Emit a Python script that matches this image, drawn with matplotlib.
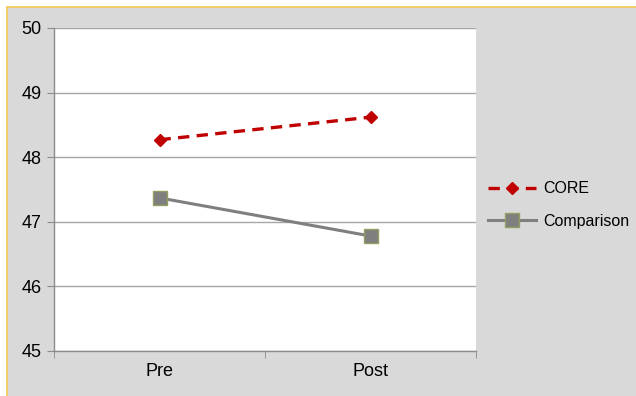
import matplotlib

matplotlib.use("Agg")
import matplotlib.pyplot as plt
from matplotlib.patches import Rectangle

categories = ["Pre", "Post"]
core_values = [48.27, 48.62]
comparison_values = [47.37, 46.78]
y_ticks = [45, 46, 47, 48, 49, 50]

plt.rcParams["font.family"] = ["Liberation Sans", "DejaVu Sans"]

fig = plt.figure(figsize=(6.36, 3.96), dpi=100, facecolor="white")
# grey chart background with the yellow frame on top/left
fig.patches.append(Rectangle((7 / 636, -0.1), 1.1, 1 + 0.1 - 7 / 396, transform=fig.transFigure,
                             facecolor="#d9d9d9", edgecolor="#f5c750", linewidth=1.2, zorder=-1))

ax = fig.add_axes([54 / 636, 45 / 396, 422 / 636, 323 / 396])
ax.set_facecolor("white")

x = list(range(len(categories)))
ax.plot(x, core_values, color="#c00000", linestyle=(0, (3.4, 2.2)), linewidth=2.4,
        marker="D", markersize=6.5, markerfacecolor="#c00000", markeredgecolor="#c00000",
        label="CORE", zorder=3)
ax.plot(x, comparison_values, color="#7f7f7f", linewidth=2.2,
        marker="s", markersize=10, markerfacecolor="#7f7f7f", markeredgecolor="#8fa060",
        markeredgewidth=1, label="Comparison", zorder=3)

ax.set_xlim(-0.5, len(categories) - 0.5)
ax.set_ylim(y_ticks[0], y_ticks[-1])
ax.set_yticks(y_ticks)
ax.set_xticks(x)
ax.set_xticklabels(categories)
ax.set_xticks([i - 0.5 for i in range(len(categories) + 1)], minor=True)
ax.tick_params(axis="x", which="major", length=0, pad=9, labelsize=13)
ax.tick_params(axis="x", which="minor", length=5, color="#8c8c8c", direction="out")
ax.tick_params(axis="y", length=5, color="#8c8c8c", direction="out", pad=4, labelsize=13)
ax.grid(axis="y", color="#a6a6a6", linewidth=1)
ax.set_axisbelow(True)

for side in ["top", "right"]:
    ax.spines[side].set_visible(False)
for side in ["left", "bottom"]:
    ax.spines[side].set_color("#8c8c8c")
    ax.spines[side].set_linewidth(1)

fig.legend(loc="upper left", bbox_to_anchor=(474 / 636, 1 - 167 / 396), frameon=False,
           fontsize=11.5, handlelength=3.0, labelspacing=1.1, handletextpad=0.45,
           markerscale=1.0)

fig.savefig("out.png", dpi=100, facecolor=fig.get_facecolor())
